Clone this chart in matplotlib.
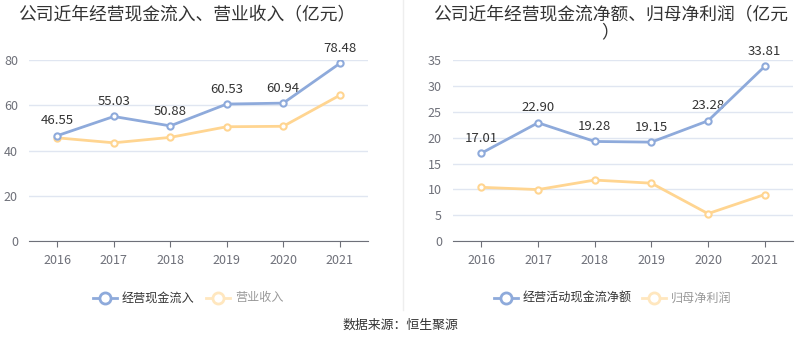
import matplotlib
matplotlib.use("Agg")
import matplotlib.pyplot as plt
from matplotlib.lines import Line2D

plt.rcParams['font.family'] = ['Noto Sans CJK SC', 'DejaVu Sans']

years = ['2016', '2017', '2018', '2019', '2020', '2021']

# left chart
cash_in = [46.55, 55.03, 50.88, 60.53, 60.94, 78.48]
revenue = [45.6, 43.4, 45.8, 50.5, 50.7, 64.4]

# right chart
cash_net = [17.01, 22.90, 19.28, 19.15, 23.28, 33.81]
net_profit = [10.4, 9.96, 11.8, 11.2, 5.3, 9.0]

BLUE = '#8eaadb'
ORANGE = '#ffd591'
GRID = '#e0e6f1'
AXIS = '#6e7079'
W, H = 800, 358


def px_axes(fig, x0, y0, x1, y1):
    return fig.add_axes([x0 / W, 1 - y1 / H, (x1 - x0) / W, (y1 - y0) / H])


def draw(ax, s1, s2, ymax, step):
    x = range(len(years))
    ax.plot(x, s2, color=ORANGE, lw=2, marker='o', ms=4.5, mfc='white',
            mec=ORANGE, mew=1.5, zorder=3)
    ax.plot(x, s1, color=BLUE, lw=2, marker='o', ms=4.5, mfc='white',
            mec=BLUE, mew=1.5, zorder=4)
    for i, v in enumerate(s1):
        ax.annotate('%.2f' % v, (i, v), xytext=(0, 6), textcoords='offset points',
                    ha='center', va='bottom', fontsize=9.5, color='#333333')
    ax.set_xlim(-0.5, len(years) - 0.5)
    ax.set_ylim(0, ymax)
    ax.set_xticks(list(x))
    ax.set_xticklabels(years)
    ax.set_yticks(range(0, ymax + 1, step))
    ax.grid(axis='y', color=GRID, lw=1)
    ax.set_axisbelow(True)
    for s in ['top', 'right', 'left']:
        ax.spines[s].set_visible(False)
    ax.spines['bottom'].set_color(AXIS)
    ax.tick_params(axis='x', colors=AXIS, length=4, labelsize=9, pad=5)
    ax.tick_params(axis='y', colors=AXIS, length=0, labelsize=9, pad=8)
    ax.set_facecolor('none')


fig = plt.figure(figsize=(8, 3.58), dpi=100)

ax1 = px_axes(fig, 29, 60, 368, 241)
draw(ax1, cash_in, revenue, 80, 20)
ax2 = px_axes(fig, 453, 60.3, 793, 241)
draw(ax2, cash_net, net_profit, 35, 5)

fig.text(18 / W, 1 - 15 / H, '公司近年经营现金流入、营业收入（亿元）',
         fontsize=12.8, color='#333333', va='center', ha='left')
fig.text(433 / W, 1 - 15 / H, '公司近年经营现金流净额、归母净利润（亿元',
         fontsize=12.8, color='#333333', va='center', ha='left')
fig.text(610 / W, 1 - 32 / H, '）', fontsize=12.8, color='#333333',
         va='center', ha='center')

# separator
fig.add_artist(Line2D([403 / W, 403 / W], [1 - 0 / H, 1 - 310 / H],
                      color='#eeeeee', lw=1))


def legend_item(xc, label, color, tcolor):
    y = 1 - 298 / H
    fig.add_artist(Line2D([(xc - 12) / W, (xc + 12) / W], [y, y], color=color, lw=2))
    fig.add_artist(Line2D([xc / W], [y], marker='o', ms=8, mfc='white',
                          mec=color, mew=2, color=color))
    fig.text((xc + 17) / W, y, label, fontsize=8.7, color=tcolor, va='center', ha='left')


legend_item(105, '经营现金流入', BLUE, '#333333')
legend_item(218, '营业收入', '#ffe7bf', '#999999')
legend_item(506, '经营活动现金流净额', BLUE, '#333333')
legend_item(654, '归母净利润', '#ffe7bf', '#999999')

fig.text(400 / W, 1 - 325 / H, '数据来源：恒生聚源', fontsize=9.3,
         color='#333333', va='center', ha='center')

fig.savefig('out.png', dpi=100)
